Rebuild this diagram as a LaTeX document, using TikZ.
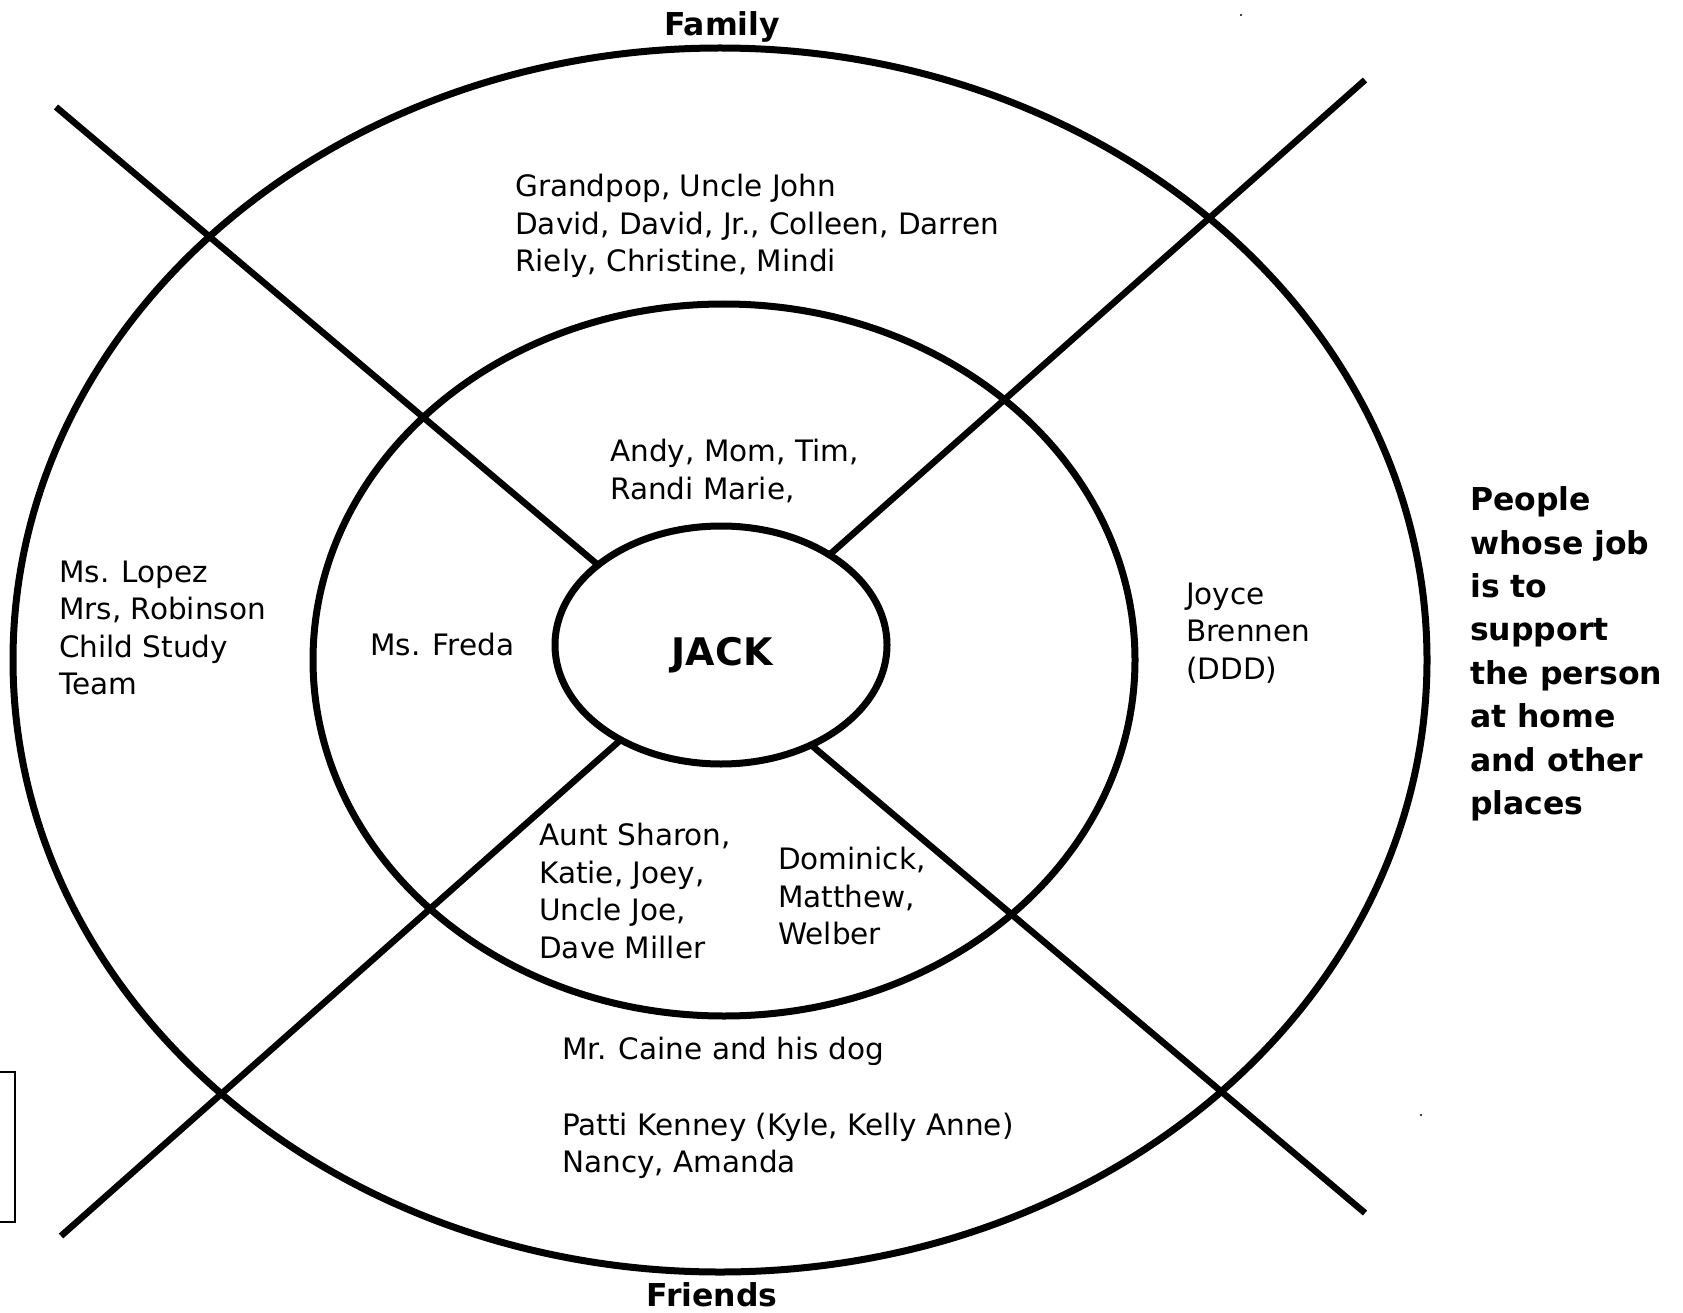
\documentclass[tikz,border=0pt]{standalone}
\usepackage{fontspec}
\setmainfont{DejaVu Sans}
\usetikzlibrary{shapes.geometric}

\tikzset{
  ring/.style={draw=black, line width=7pt},
  spoke/.style={draw=black, line width=6.5pt},
  names/.style={anchor=west, align=left, inner sep=0pt,
    font=\fontsize{29.5}{37.5}\selectfont},
  heading/.style={inner sep=0pt, font=\fontsize{31.5}{43.4}\selectfont\bfseries}
}

\begin{document}
\begin{tikzpicture}[x=1pt, y=-1pt]
  \useasboundingbox (0,0) rectangle (1683,1313);

  % outer and middle rings
  \draw[ring] (720,660) ellipse [x radius=707pt, y radius=612pt];
  \draw[ring] (724,660) ellipse [x radius=411pt, y radius=356pt];

  % the two crossing spokes
  \coordinate (nw) at (56,107);
  \coordinate (se) at (1365,1213);
  \coordinate (ne) at (1365,80);
  \coordinate (sw) at (61,1236);
  \draw[spoke] (nw) -- (se);
  \draw[spoke] (ne) -- (sw);

  % centre ring
  \node[ellipse, ring, fill=white, minimum width=332pt, minimum height=238pt,
        inner sep=0pt] (jack) at (721,645) {};
  \node[inner sep=0pt, font=\fontsize{38}{44}\selectfont\bfseries] (jackname) at (722,655) {JACK};

  % headings
  \node[heading] (family) at (722,27) {Family};
  \node[heading] (friends) at (712,1295) {Friends};
  \node[heading, anchor=west, align=left] (staff) at (1470,654)
    {People\\whose job\\is to\\support\\the person\\at home\\and other\\places};

  % names in each part
  \node[names] (relatives) at (515,226) {Grandpop, Uncle John\\David, David, Jr., Colleen, Darren\\Riely, Christine, Mindi};
  \node[names] (home) at (610,471) {Andy, Mom, Tim,\\Randi Marie,};
  \node[names] (freda) at (370,644) {Ms. Freda};
  \node[names] (school) at (59,628) {Ms. Lopez\\Mrs, Robinson\\Child Study\\Team};
  \node[names] (joyce) at (1186,633) {Joyce\\Brennen\\(DDD)};
  \node[names] (aunt) at (539,891) {Aunt Sharon,\\Katie, Joey,\\Uncle Joe,\\Dave Miller};
  \node[names] (pals) at (778,896) {Dominick,\\Matthew,\\Welber};
  \node[names] (caine) at (562,1051) {Mr. Caine and his dog};
  \node[names] (patti) at (562,1146) {Patti Kenney (Kyle, Kelly Anne)\\Nancy, Amanda};

  % box cut by the left edge
  \draw[line width=1.5pt] (-5,1072) -- (15,1072) -- (15,1222) -- (-5,1222);
  \fill (1241,15) circle (1.2pt);
  \fill (1421,1115) circle (1.2pt);
\end{tikzpicture}
\end{document}
